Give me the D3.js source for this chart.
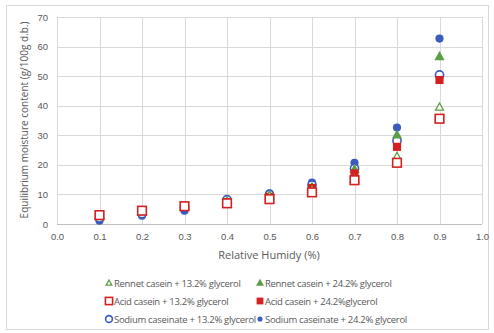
<!DOCTYPE html>
<html><head><meta charset="utf-8">
<script src="https://cdn.jsdelivr.net/npm/d3@7"></script>
<style>body{margin:0;background:#fff;}svg{display:block;font-family:"Open Sans",Calibri,sans-serif;}</style>
</head><body><svg id="c" width="494" height="333"></svg>
<script>
const rh = [0.1,0.2,0.3,0.4,0.5,0.6,0.7,0.8,0.9];
const rennet13 = [2.5,4.2,5.8,7.5,9.5,11.5,15.1,22.8,39.5];
const rennet24 = [2.8,4.4,6.0,7.6,9.6,12.5,18.5,30.1,56.6];
const acid13 = [3.0,4.5,6.0,7.0,8.4,10.7,14.8,20.7,35.6];
const acid24 = [3.0,4.6,6.2,7.3,9.2,12.2,17.1,26.1,48.7];
const sodium13 = [2.0,3.5,5.5,8.2,10.0,13.2,18.8,28.1,50.4];
const sodium24 = [1.1,2.8,4.5,7.2,10.4,14.0,20.7,32.6,62.7];
const xTicks = [0,0.1,0.2,0.3,0.4,0.5,0.6,0.7,0.8,0.9,1.0];
const yTicks = [0,10,20,30,40,50,60,70];

const green="#5a9e45", red="#d42020", blue="#3a5cc0";
const series = [
  {name:"Rennet casein + 13.2% glycerol", data:rennet13, shape:"tri", fill:false, color:green},
  {name:"Rennet casein + 24.2% glycerol", data:rennet24, shape:"tri", fill:true, color:green},
  {name:"Acid casein + 13.2% glycerol", data:acid13, shape:"sq", fill:false, color:red},
  {name:"Acid casein + 24.2%glycerol", data:acid24, shape:"sq", fill:true, color:red},
  {name:"Sodium caseinate + 13.2% glycerol", data:sodium13, shape:"ci", fill:false, color:blue},
  {name:"Sodium caseinate + 24.2% glycerol", data:sodium24, shape:"ci", fill:true, color:blue}
];
const drawOrder = [5,4,1,3,0,2];

const svg = d3.select("#c");
svg.append("rect").attr("x",6.5).attr("y",5.5).attr("width",482).attr("height",324)
  .attr("fill","#fff").attr("stroke","#d9d9d9");

const x = d3.scaleLinear().domain([0,1]).range([57,482]);
const y = d3.scaleLinear().domain([0,70]).range([224,17]);

const g = svg.append("g");
g.selectAll(".vg").data(xTicks).join("line")
  .attr("x1",d=>Math.round(x(d))+0.5).attr("x2",d=>Math.round(x(d))+0.5)
  .attr("y1",y(70)).attr("y2",y(0)).attr("stroke","#d9d9d9");
g.selectAll(".hg").data(yTicks.slice(1)).join("line")
  .attr("x1",x(0)).attr("x2",x(1))
  .attr("y1",d=>Math.round(y(d))+0.5).attr("y2",d=>Math.round(y(d))+0.5).attr("stroke","#d9d9d9");
g.append("line").attr("x1",x(0)).attr("x2",x(1)).attr("y1",y(0)+0.5).attr("y2",y(0)+0.5).attr("stroke","#bfbfbf");

const xa = svg.append("g").attr("transform",`translate(0,${y(0)})`)
  .call(d3.axisBottom(x).tickValues(xTicks).tickFormat(d3.format(".1f")).tickSize(0).tickPadding(9));
xa.select(".domain").remove();
xa.selectAll("text").attr("fill","#595959").attr("font-size",9.5);
const ya = svg.append("g").attr("transform",`translate(${x(0)},0)`)
  .call(d3.axisLeft(y).tickValues(yTicks).tickSize(0).tickPadding(9));
ya.select(".domain").remove();
ya.selectAll("text").attr("fill","#595959").attr("font-size",9.5);

svg.append("text").attr("x",269).attr("y",259).attr("text-anchor","middle")
  .attr("fill","#595959").attr("font-size",11).text("Relative Humidy (%)");
svg.append("text").attr("transform","translate(28,120) rotate(-90)").attr("text-anchor","middle")
  .attr("fill","#595959").attr("font-size",10).text("Equilibrium moisture content (g/100g d.b.)");

function marker(sel, s, r){
  if(s.shape==="tri"){
    sel.append("path").attr("d",`M0,${-r}L${r*0.95},${r*0.7}L${-r*0.95},${r*0.7}Z`)
      .attr("fill",s.fill?s.color:"#fff").attr("stroke",s.color).attr("stroke-width",1.3);
  } else if(s.shape==="sq"){
    const h = s.fill? r*0.85 : r*0.9;
    sel.append("rect").attr("x",-h).attr("y",-h).attr("width",2*h).attr("height",2*h)
      .attr("fill",s.fill?s.color:"#fff").attr("stroke",s.color).attr("stroke-width",s.fill?0:1.6);
  } else {
    sel.append("circle").attr("r",r*0.85)
      .attr("fill",s.fill?s.color:"#fff").attr("stroke",s.color).attr("stroke-width",s.fill?0:1.6);
  }
}

drawOrder.forEach(i=>{
  const s = series[i];
  const sg = svg.append("g");
  s.data.forEach((v,j)=>{
    const m = sg.append("g").attr("transform",`translate(${x(rh[j])},${y(v)})`);
    marker(m, s, s.shape==="tri"?4.2:4.8);
  });
});

const legX = [109,260], legY = [283,301,319];
series.forEach((s,i)=>{
  const col = i%2, row = Math.floor(i/2);
  const lg = svg.append("g").attr("transform",`translate(${legX[col]},${legY[row]})`);
  marker(lg, s, s.shape==="tri"?3:(s.fill&&s.shape==="ci"?3:4));
  lg.append("text").attr("x",5).attr("y",3.5).attr("fill","#595959").attr("font-size",9.5).attr("letter-spacing",-0.3).text(s.name);
});
</script></body></html>
